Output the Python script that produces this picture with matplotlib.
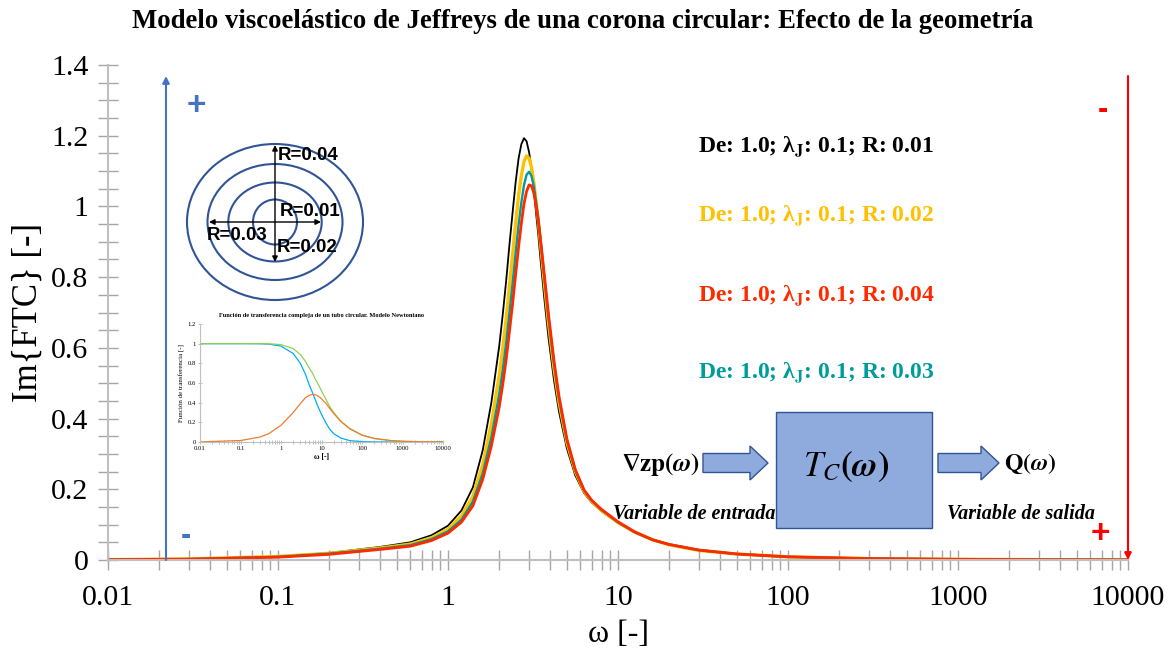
import matplotlib
matplotlib.use('Agg')
import matplotlib.pyplot as plt
from matplotlib.patches import Ellipse, Rectangle, FancyArrow
from matplotlib.ticker import LogLocator, MultipleLocator, NullFormatter

plt.rcParams['font.family'] = ['Liberation Serif', 'DejaVu Serif']
plt.rcParams['mathtext.fontset'] = 'stix'

# --- main chart data: Im{FTC} vs omega, one series per radius ---
omega = [0.01, 0.03, 0.1, 0.2, 0.4, 0.6, 0.8, 1.0, 1.2, 1.4, 1.6, 1.8,
         2.0, 2.1, 2.2, 2.3, 2.4, 2.5, 2.6, 2.7, 2.8, 2.9, 3.0, 3.1, 3.2, 3.3, 3.4, 3.5,
         3.7, 3.9, 4.2, 4.5, 5.0, 5.6, 6.3, 7.0, 8.0,
         10, 12.5, 16, 20, 30, 50, 100, 300, 1000, 3000, 10000]

im_r001 = [0.001, 0.003, 0.010, 0.020, 0.037, 0.050, 0.070, 0.097, 0.140, 0.205, 0.310, 0.446,
           0.604, 0.695, 0.791, 0.893, 0.984, 1.069, 1.135, 1.176, 1.193, 1.184, 1.153, 1.106, 1.047, 0.979, 0.918, 0.851,
           0.732, 0.629, 0.509, 0.419, 0.316, 0.240, 0.190, 0.163, 0.138,
           0.105, 0.078, 0.056, 0.043, 0.027, 0.017, 0.009, 0.004, 0.002, 0.001, 0.0005]
im_r002 = [0.001, 0.003, 0.010, 0.019, 0.034, 0.045, 0.063, 0.087, 0.125, 0.180, 0.270, 0.386,
           0.521, 0.599, 0.684, 0.777, 0.865, 0.953, 1.029, 1.087, 1.127, 1.143, 1.136, 1.110, 1.067, 1.012, 0.957, 0.895,
           0.776, 0.670, 0.542, 0.445, 0.333, 0.251, 0.195, 0.166, 0.140,
           0.106, 0.079, 0.057, 0.043, 0.027, 0.017, 0.009, 0.004, 0.002, 0.001, 0.0005]
im_r003 = [0.001, 0.0025, 0.009, 0.018, 0.032, 0.042, 0.059, 0.081, 0.114, 0.165, 0.245, 0.348,
           0.468, 0.538, 0.615, 0.701, 0.784, 0.869, 0.947, 1.011, 1.061, 1.090, 1.098, 1.086, 1.056, 1.011, 0.964, 0.906,
           0.793, 0.687, 0.556, 0.456, 0.340, 0.255, 0.198, 0.168, 0.142,
           0.107, 0.079, 0.057, 0.044, 0.028, 0.017, 0.009, 0.004, 0.002, 0.001, 0.0005]
im_r004 = [0.001, 0.0025, 0.008, 0.016, 0.030, 0.039, 0.055, 0.076, 0.107, 0.153, 0.228, 0.323,
           0.432, 0.497, 0.568, 0.648, 0.726, 0.808, 0.885, 0.952, 1.008, 1.043, 1.061, 1.058, 1.038, 1.001, 0.959, 0.907,
           0.799, 0.695, 0.564, 0.462, 0.343, 0.256, 0.199, 0.169, 0.143,
           0.108, 0.080, 0.057, 0.044, 0.028, 0.017, 0.009, 0.004, 0.002, 0.001, 0.0005]

series = [
    ('De: 1.0; λ$_{\\mathbf{J}}$: 0.1; R: 0.01', im_r001, '#000000', 1.3),
    ('De: 1.0; λ$_{\\mathbf{J}}$: 0.1; R: 0.02', im_r002, '#FFC000', 2.4),
    ('De: 1.0; λ$_{\\mathbf{J}}$: 0.1; R: 0.03', im_r003, '#009B9B', 1.7),
    ('De: 1.0; λ$_{\\mathbf{J}}$: 0.1; R: 0.04', im_r004, '#FF2A00', 2.0),
]
# order the text labels appear on the chart (top to bottom)
label_order = [0, 1, 3, 2]
label_y = [147, 216, 296, 373]

xticks = [0.01, 0.1, 1, 10, 100, 1000, 10000]
xticklabels = ['0.01', '0.1', '1', '10', '100', '1000', '10000']
yticks = [0, 0.2, 0.4, 0.6, 0.8, 1.0, 1.2, 1.4]
yticklabels = ['0', '0.2', '0.4', '0.6', '0.8', '1', '1.2', '1.4']

# --- small inset: Newtonian tube transfer function ---
w_newt = [0.01, 0.1, 0.3, 0.5, 1, 2, 3, 4, 5, 6, 7, 8, 10, 13, 16, 20, 30, 50,
          100, 200, 500, 1000, 3000, 10000]
newt_real = [1.0, 1.0, 0.999, 0.995, 0.975, 0.90, 0.80, 0.69, 0.58, 0.50, 0.43, 0.37,
             0.28, 0.19, 0.13, 0.085, 0.04, 0.014, 0.003, 0.001, 0.0, 0.0, 0.0, 0.0]
newt_imag = [0.001, 0.015, 0.05, 0.085, 0.17, 0.30, 0.39, 0.45, 0.475, 0.484, 0.48, 0.47,
             0.44, 0.39, 0.34, 0.29, 0.21, 0.135, 0.07, 0.036, 0.015, 0.007, 0.0025, 0.001]
newt_norm = [1.0, 1.0, 1.0, 0.999, 0.99, 0.95, 0.89, 0.82, 0.75, 0.70, 0.64, 0.60,
             0.52, 0.43, 0.36, 0.30, 0.21, 0.136, 0.07, 0.036, 0.015, 0.007, 0.0025, 0.001]
newt_names = ['Norma', 'Real', 'Imaginaria']

W, H = 1170, 654
grey = '#BFBFBF'
tickgrey = '#A6A6A6'

fig = plt.figure(figsize=(W / 100, H / 100), dpi=100)

# main axes
ax = fig.add_axes([108 / W, 1 - 560 / H, 1020 / W, 495 / H])
for name, vals, col, lw in series:
    ax.plot(omega, vals, color=col, lw=lw, solid_capstyle='round')
ax.set_xscale('log')
ax.set_xlim(0.01, 10000)
ax.set_ylim(0, 1.4)
ax.set_xticks(xticks, xticklabels)
ax.xaxis.set_minor_locator(LogLocator(base=10, subs=range(2, 10), numticks=20))
ax.xaxis.set_minor_formatter(NullFormatter())
ax.set_yticks(yticks, yticklabels)
ax.yaxis.set_minor_locator(MultipleLocator(0.05))
for s in ['top', 'right']:
    ax.spines[s].set_visible(False)
for s in ['left', 'bottom']:
    ax.spines[s].set_color(grey)
    ax.spines[s].set_linewidth(1.5)
ax.tick_params(which='both', direction='inout', length=14, width=1, color=tickgrey, labelsize=21.5)
ax.tick_params(axis='x', pad=11)
ax.tick_params(axis='y', pad=7)

fig.text(583 / W, 1 - 22 / H,
         'Modelo viscoelástico de Jeffreys de una corona circular: Efecto de la geometría',
         ha='center', va='center', fontsize=19.3, fontweight='bold')
fig.text(28 / W, 1 - 312 / H, 'Im{FTC} [-]', rotation=90, ha='center', va='center', fontsize=25)
fig.text(618 / W, 1 - 635 / H, 'ω [-]', ha='center', va='center', fontsize=23)

# overlay in pixel coordinates for the drawn annotations
ov = fig.add_axes([0, 0, 1, 1])
ov.set_xlim(0, W)
ov.set_ylim(H, 0)
ov.axis('off')
ov.set_facecolor('none')

# series labels
for k, yy in zip(label_order, label_y):
    name, vals, col, lw = series[k]
    ov.text(698, yy, name, color=col, fontsize=17, fontweight='bold', ha='left', va='center')

# sign arrows
ov.annotate('', xy=(166, 76), xytext=(166, 560),
            arrowprops=dict(arrowstyle='-|>', color='#4472C4', lw=1.5, mutation_scale=10, shrinkA=0, shrinkB=0))
ov.annotate('', xy=(1128, 560), xytext=(1128, 76),
            arrowprops=dict(arrowstyle='-|>', color='#FF0000', lw=1.5, mutation_scale=10, shrinkA=0, shrinkB=0))
ov.text(196, 107, '+', color='#4472C4', fontsize=24, family='Liberation Sans', fontweight='bold', ha='center', va='center')
ov.text(186, 536, '-', color='#4472C4', fontsize=22, family='Liberation Sans', fontweight='bold', ha='center', va='center')
ov.text(1103, 110, '-', color='#FF0000', fontsize=22, family='Liberation Sans', fontweight='bold', ha='center', va='center')
ov.text(1100, 535, '+', color='#FF0000', fontsize=24, family='Liberation Sans', fontweight='bold', ha='center', va='center')

# concentric circles sketch
for rx, ry in [(22, 22.5), (46.7, 39.5), (67.5, 58), (88, 78)]:
    ov.add_patch(Ellipse((275, 222), 2 * rx, 2 * ry, fill=False, ec='#2F5597', lw=1.5))
ov.annotate('', xy=(275, 145), xytext=(275, 262),
            arrowprops=dict(arrowstyle='<|-|>', color='black', lw=1, mutation_scale=8, shrinkA=0, shrinkB=0))
ov.annotate('', xy=(209, 222), xytext=(321, 222),
            arrowprops=dict(arrowstyle='<|-|>', color='black', lw=1, mutation_scale=8, shrinkA=0, shrinkB=0))
for tx, ty, t in [(278, 156, 'R=0.04'), (280, 212, 'R=0.01'), (207, 236, 'R=0.03'), (277, 248, 'R=0.02')]:
    ov.text(tx, ty, t, fontsize=13.5, family='Liberation Sans', fontweight='bold', ha='left', va='center')

# block diagram
ov.add_patch(Rectangle((776, 412), 156, 116, fc='#8FAADC', ec='#2F5597', lw=1))
ov.add_patch(FancyArrow(703, 463, 65, 0, width=19, head_width=34, head_length=18,
                        length_includes_head=True, fc='#8FAADC', ec='#2F5597', lw=1))
ov.add_patch(FancyArrow(938, 463, 61, 0, width=19, head_width=34, head_length=18,
                        length_includes_head=True, fc='#8FAADC', ec='#2F5597', lw=1))
ov.text(846, 467, r'$\boldsymbol{T_C}\mathbf{(}\boldsymbol{\omega}\mathbf{)}$', fontsize=25, ha='center', va='center')
ov.text(700, 464, r'$\mathbf{\nabla zp(}\boldsymbol{\omega}\mathbf{)}$', fontsize=18, ha='right', va='center')
ov.text(1004, 464, r'$\mathbf{Q(}\boldsymbol{\omega}\mathbf{)}$', fontsize=17, ha='left', va='center')
ov.text(613, 514, 'Variable de entrada', fontsize=14.5, fontweight='bold', fontstyle='italic', ha='left', va='center')
ov.text(947, 514, 'Variable de salida', fontsize=14.5, fontweight='bold', fontstyle='italic', ha='left', va='center')

# inset newtonian chart
ins = fig.add_axes([200 / W, 1 - 442 / H, 243 / W, 118 / H])
ins.plot(w_newt, newt_real, color='#00B0F0', lw=0.9)
ins.plot(w_newt, newt_norm, color='#92D050', lw=0.9)
ins.plot(w_newt, newt_imag, color='#ED7D31', lw=0.9)
ins.set_xscale('log')
ins.set_xlim(0.01, 10000)
ins.set_ylim(0, 1.2)
ins.set_xticks(xticks, xticklabels)
ins.xaxis.set_minor_locator(LogLocator(base=10, subs=range(2, 10), numticks=20))
ins.xaxis.set_minor_formatter(NullFormatter())
ins.set_yticks([0, 0.2, 0.4, 0.6, 0.8, 1.0, 1.2], ['0', '0.2', '0.4', '0.6', '0.8', '1', '1.2'])
for s in ['top', 'right']:
    ins.spines[s].set_visible(False)
for s in ['left', 'bottom']:
    ins.spines[s].set_color(grey)
    ins.spines[s].set_linewidth(0.8)
ins.tick_params(which='both', direction='inout', length=3, width=0.5, color=tickgrey, labelsize=4.8, pad=1.5)
ins.set_title('Función de transferencia compleja de un tubo circular. Modelo Newtoniano',
              fontsize=4.6, fontweight='bold', pad=5)
ins.set_ylabel('Función de transferencia [-]', fontsize=5, labelpad=2)
ins.set_xlabel('ω [-]', fontsize=5.5, fontweight='bold', labelpad=1)
for t, yy, col in zip(newt_names, [367, 380, 396], ['#92D050', '#00B0F0', '#ED7D31']):
    ov.text(265, yy, t, fontsize=3.4, color=col, va='center', ha='left', zorder=5)

fig.savefig('out.png', dpi=100)
